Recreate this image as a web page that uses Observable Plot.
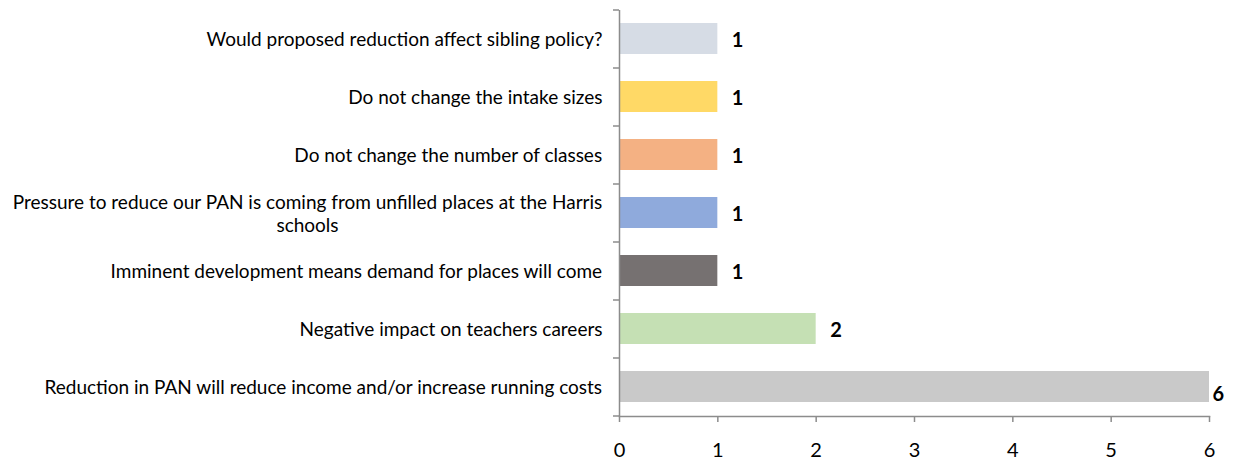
<!DOCTYPE html>
<html>
<head>
<meta charset="utf-8">
<script src="https://cdn.jsdelivr.net/npm/d3@7"></script>
<script src="https://cdn.jsdelivr.net/npm/@observablehq/plot@0.6"></script>
<style>
  html, body { margin: 0; padding: 0; background: #fff; }
</style>
</head>
<body>
<div id="chart"></div>
<script>
const categories = [
  "Would proposed reduction affect sibling policy?",
  "Do not change the intake sizes",
  "Do not change the number of classes",
  "Pressure to reduce our PAN is coming from unfilled places at the Harris\nschools",
  "Imminent development means demand for places will come",
  "Negative impact on teachers careers",
  "Reduction in PAN will reduce income and/or increase running costs"
];
const counts = [1, 1, 1, 1, 1, 2, 6];
const colors = ["#D6DCE5", "#FFD966", "#F4B183", "#8FAADC", "#767171", "#C5E0B4", "#C9C9C9"];
const xTicks = [0, 1, 2, 3, 4, 5, 6];

const data = categories.map((c, i) => ({ category: c, value: counts[i], color: colors[i] }));

const labelSize = 19;
const ctx = document.createElement("canvas").getContext("2d");
ctx.font = `${labelSize}px Lato`;
const maxLineWidth = s => Math.max(...s.split("\n").map(l => ctx.measureText(l).width));

const axisColor = "#8C8C8C";
const step = (416 - 10) / categories.length;

const labelMarks = data.map(d => Plot.text([d], {
  x: () => 0,
  y: "category",
  text: "category",
  textAnchor: "middle",
  lineHeight: 1.2,
  dx: -(17 + maxLineWidth(d.category) / 2),
  fontSize: labelSize,
  fill: "#000"
}));

const chart = Plot.plot({
  width: 1237,
  height: 461,
  marginLeft: 619,
  marginRight: 28,
  marginTop: 10,
  marginBottom: 45,
  style: { fontFamily: "Lato, sans-serif", background: "#fff", color: "#000" },
  x: { domain: [0, 6] },
  y: { domain: categories, paddingInner: 0.46, paddingOuter: 0.23, align: 0.5 },
  marks: [
    Plot.barX(data, { x: "value", y: "category", fill: "color" }),
    Plot.ruleX([0], { stroke: axisColor, strokeWidth: 1.5 }),
    Plot.frame({ anchor: "bottom", stroke: axisColor, strokeWidth: 1.5 }),
    Plot.axisX({ ticks: xTicks, tickSize: 6, tickPadding: 20, fontSize: 20, stroke: axisColor, strokeWidth: 1.5, tickFormat: d3.format("d"), color: "#000", label: null }),
    Plot.axisY({ tickSize: 6, dy: -step / 2, tickFormat: () => "", stroke: axisColor, strokeWidth: 1.5, label: null }),
    Plot.axisY({ ticks: [categories[categories.length - 1]], tickSize: 6, dy: step / 2, tickFormat: () => "", stroke: axisColor, strokeWidth: 1.5, label: null }),
    ...labelMarks,
    Plot.text(data, {
      x: "value",
      y: "category",
      text: d => String(d.value),
      textAnchor: "start",
      dx: 14,
      dy: 2,
      fontSize: 20,
      fontWeight: "bold",
      fill: "#000",
      filter: d => d.value < 6
    }),
    Plot.text(data, {
      x: "value",
      y: "category",
      text: d => String(d.value),
      textAnchor: "start",
      dx: 3,
      dy: 8,
      fontSize: 20,
      fontWeight: "bold",
      fill: "#000",
      filter: d => d.value >= 6
    })
  ]
});
document.getElementById("chart").appendChild(chart);
</script>
</body>
</html>
